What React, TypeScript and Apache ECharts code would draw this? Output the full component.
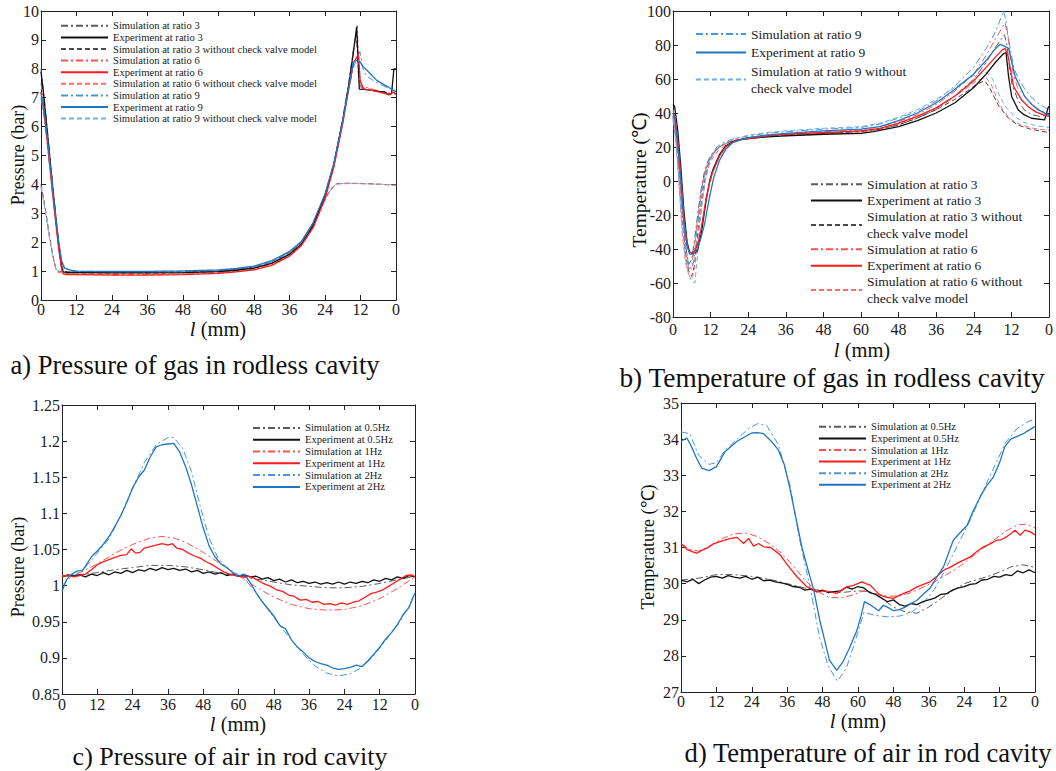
import React, { useEffect, useRef } from 'react';
import * as echarts from 'echarts';

const FONT = 'Liberation Serif, Times New Roman, serif';

// Stroke position axis: runs 0 -> 60 -> 0 mm (plotted 0..120)
const X_TICK_LABELS = ['0', '12', '24', '36', '48', '60', '48', '36', '24', '12', '0'];

// ---------- a) Pressure of gas in rodless cavity (bar) ----------
const A3_SIM = [[0,8.0],[1,7.1],[2,6.05],[3,5.0],[4,3.95],[5,2.95],[6,2.0],[7,1.2],[7.8,1.0],[9,0.97],[12,0.97],[24,0.96],[36,0.96],[48,0.97],[60,1.0],[66,1.05],[72,1.13],[78,1.3],[84,1.62],[88,1.98],[92,2.65],[96,3.65],[99,4.75],[102,6.3],[104,7.5],[105.5,8.6],[106.6,9.25],[107.4,7.6],[108.2,7.35],[112,7.28],[116,7.18],[118,7.15],[120,7.2]];
const A3_EXP = [[0,7.9],[1,7.0],[2,5.95],[3,4.9],[4,3.85],[5,2.85],[6,1.9],[7,1.1],[7.6,0.97],[9,0.95],[12,0.95],[24,0.94],[36,0.94],[48,0.95],[60,0.98],[66,1.03],[72,1.1],[78,1.27],[84,1.58],[88,1.93],[92,2.58],[96,3.6],[99,4.7],[102,6.2],[104,7.4],[105.5,8.5],[106.7,9.45],[107.6,7.3],[110,7.28],[114,7.22],[116.3,7.2],[117.5,7.1],[118.5,7.15],[119.3,8.0],[120,8.0]];
const A3_NOCV = [[0,4.0],[1,3.45],[2,2.8],[3,2.15],[4,1.55],[5,1.1],[5.7,1.0],[8,0.98],[12,0.98],[24,0.97],[36,0.97],[48,0.98],[60,1.01],[66,1.06],[72,1.14],[78,1.32],[84,1.64],[88,2.0],[92,2.68],[96,3.5],[98,3.85],[100,4.03],[104,4.04],[110,4.03],[116,4.0],[120,3.98]];
const A6_SIM = [[0,7.5],[1,6.7],[2,5.75],[3,4.75],[4,3.75],[5,2.75],[6,1.85],[7,1.1],[7.8,0.92],[9,0.9],[12,0.9],[24,0.88],[36,0.88],[48,0.9],[60,0.94],[66,0.99],[72,1.06],[78,1.23],[84,1.55],[88,1.9],[92,2.55],[96,3.55],[99,4.65],[102,6.2],[104,7.5],[105.8,8.7],[106.9,9.5],[107.6,7.6],[108.5,7.4],[112,7.3],[116,7.15],[118,7.1],[120,7.15]];
const A6_EXP = [[0,7.2],[1,6.5],[2,5.6],[3,4.6],[4,3.6],[5,2.65],[6,1.75],[7,1.05],[7.6,0.9],[9,0.88],[12,0.88],[24,0.86],[36,0.86],[48,0.88],[60,0.92],[66,0.97],[72,1.04],[78,1.2],[84,1.52],[88,1.88],[92,2.5],[96,3.5],[99,4.6],[102,6.1],[104,7.3],[105.6,8.2],[107.3,8.5],[107.9,7.6],[109,7.3],[112,7.25],[116,7.15],[118,7.12],[119,7.2],[120,7.1]];
const A6_NOCV = [[0,3.95],[1,3.4],[2,2.75],[3,2.1],[4,1.5],[5,1.05],[5.7,0.95],[8,0.93],[12,0.93],[24,0.92],[36,0.92],[48,0.93],[60,0.96],[66,1.01],[72,1.09],[78,1.27],[84,1.6],[88,1.96],[92,2.63],[96,3.45],[98,3.82],[100,4.01],[104,4.03],[110,4.02],[116,3.99],[120,3.97]];
const A9_SIM = [[0,7.0],[1,6.35],[2,5.5],[3,4.55],[4,3.6],[5,2.7],[6,1.9],[7,1.3],[8,1.08],[10,1.02],[12,1.0],[24,0.98],[36,0.98],[48,1.0],[60,1.03],[66,1.08],[72,1.16],[78,1.34],[84,1.66],[88,2.0],[92,2.66],[96,3.65],[99,4.7],[102,6.2],[104,7.3],[105.8,8.1],[107.8,8.6],[108.8,8.0],[110,7.75],[113,7.55],[117,7.35],[120,7.25]];
const A9_EXP = [[0,7.2],[1,6.6],[2,5.75],[3,4.8],[4,3.8],[5,2.85],[6,2.0],[7,1.35],[8,1.1],[10,1.03],[12,1.0],[24,0.99],[36,0.99],[48,1.01],[60,1.04],[66,1.09],[72,1.17],[78,1.36],[84,1.68],[88,2.02],[92,2.68],[96,3.67],[99,4.72],[102,6.2],[104,7.3],[105.5,8.2],[106.5,8.3],[107.8,8.25],[109,8.05],[110.1,7.96],[112,7.75],[113.5,7.6],[116.8,7.4],[118.5,7.3],[120,7.2]];
const A9_NOCV = [[0,3.9],[1,3.35],[2,2.7],[3,2.05],[4,1.5],[5,1.1],[5.8,0.98],[8,0.96],[12,0.96],[24,0.95],[36,0.95],[48,0.96],[60,0.99],[66,1.04],[72,1.12],[78,1.3],[84,1.62],[88,1.98],[92,2.66],[96,3.48],[98,3.84],[100,4.02],[104,4.04],[110,4.02],[116,4.0],[120,3.98]];

// ---------- b) Temperature of gas in rodless cavity (°C) ----------
const B3_SIM = [[0,40],[1,30],[2,10],[3,-16],[4,-38],[5,-49],[6,-46],[7,-33],[8,-18],[9,-5],[10,5],[11,11],[12,15],[14,19],[16,21.5],[18,23],[20,24],[24,25.5],[30,26.5],[36,27],[48,28],[60,29],[66,30.5],[72,33],[78,37],[84,42],[90,50],[96,60],[100,70],[103,79],[105.8,86],[106.6,80],[107.3,68],[108.2,57],[110,48],[112,42],[114.5,39],[117,38],[120,39]];
const B3_EXP = [[0,45],[0.5,44],[1.5,30],[2.5,8],[3.5,-18],[4.5,-36],[5.3,-42],[6.5,-42.5],[7.8,-41],[9,-31],[10.6,-11],[11.7,0],[12.6,6],[14.8,15.5],[16.8,20.5],[19,23],[22,24.5],[24,25],[30,26],[36,26.5],[48,27.5],[60,28],[64,29],[72,32],[78,35.5],[84,40],[90,46],[96,55],[100,63],[103,70],[105.5,75],[106.3,75.5],[107.1,61.4],[108.1,49.6],[110.2,41.8],[112,39],[114.4,36.9],[118.6,36],[119.7,43],[120,44]];
const B3_NOCV = [[0,38],[1,24],[2,0],[3,-26],[4,-44],[5,-53],[6,-56],[6.8,-50],[7.6,-36],[8.5,-20],[9.5,-6],[10.5,4],[11.5,11],[12.5,15],[14,19],[16,21.5],[18,23],[20,24],[24,25.5],[30,26.5],[36,27],[48,28],[60,29],[66,30.5],[72,33],[78,37],[84,42],[90,48],[94,53],[97,57],[99.5,59],[101,55],[104,44],[107,37],[110,33],[114,30.5],[117,29.5],[120,28.5]];
const B6_SIM = [[0,38],[1,27],[2,6],[3,-20],[4,-42],[5,-52],[6,-50],[7,-36],[8,-20],[9,-6],[10,4],[11,10],[12,14],[14,18.5],[16,21],[18,23],[20,24],[24,25.5],[30,27],[36,28],[48,29],[60,30],[66,32],[72,35],[78,39],[84,45],[90,53],[96,63],[100,74],[103,84],[106,93],[107,84],[107.8,72],[108.7,62],[110,55],[113,48],[116,43],[118,41],[120,39]];
const B6_EXP = [[0,40],[0.6,38],[1.5,25],[2.5,3],[3.5,-22],[4.5,-38],[5.3,-42],[6.5,-42],[7.8,-38],[9,-28],[10.6,-10],[11.7,-1],[12.6,5],[14.8,14.5],[16.8,20],[19,22.8],[22,24.5],[24,25],[30,26.5],[36,27.5],[48,28.5],[60,29.5],[66,31],[72,34],[78,38],[84,43],[90,50],[96,59],[100,67],[103,73],[105,77],[106,78],[107,73],[108.7,55.5],[111.3,47.6],[113.5,43.5],[115.6,40.8],[118,39],[120,38]];
const B6_NOCV = [[0,36],[1,22],[2,-5],[3,-32],[4,-48],[5,-55],[6,-57],[6.8,-52],[7.6,-40],[8.5,-24],[9.5,-10],[10.5,2],[11.5,9],[12.5,13],[14,17],[16,20],[18,22],[20,23.5],[24,25],[30,26],[36,26.5],[48,27.5],[60,28.5],[66,30.5],[72,33.5],[78,38],[84,43],[90,50],[94,55],[97,59],[99.8,61],[101.5,57],[103.5,48],[105.5,41],[108,36],[111,33],[115,31],[118,30.2],[120,30]];
const B9_SIM = [[0,42],[1,32],[2,12],[3,-14],[4,-37],[5,-50],[6,-52],[6.8,-45],[7.6,-30],[8.5,-15],[9.5,-2],[10.5,6],[11.5,12],[12.5,16],[14,20],[16,22.5],[18,24],[20,25],[24,26.5],[30,28],[36,29],[48,30.5],[60,31.5],[66,33.5],[72,37],[78,41],[84,47],[90,56],[96,67],[100,78],[103,88],[105.5,100],[106.3,94],[107,84.5],[108.7,67],[110,61],[112,55],[114,50],[117,45],[120,42]];
const B9_EXP = [[0,40],[0.6,36],[1.5,22],[2.5,0],[3.5,-24],[4.5,-38],[5.3,-43],[6.5,-43],[7.8,-40],[9,-33],[10.1,-25],[11.7,-9],[13,2],[14.8,12],[17,19],[19,22.5],[22,24.5],[24,25.5],[30,27],[36,28],[48,29.5],[60,30.5],[66,32],[72,35.5],[78,40],[84,46],[90,54],[96,63],[100,71],[102.5,77],[104.4,80.4],[105.5,79.5],[107.1,78],[109.2,61.4],[112.3,49.6],[114.5,45],[116.6,41.8],[119.7,38.9],[120,39]];
const B9_NOCV = [[0,38],[1,23],[2,-2],[3,-28],[4,-46],[5,-55],[6,-59],[7,-60],[7.6,-48],[8.4,-30],[9.3,-12],[10.3,1],[11.3,9],[12.3,14],[14,18.5],[16,21.5],[18,23.5],[20,25],[24,27],[30,28.5],[36,29.5],[48,31],[60,32],[66,34],[72,37.5],[78,42],[84,48],[90,55],[94,60],[97,63],[100,64],[102,60],[104,51],[106,44],[109,38],[112,34.5],[116,32.5],[120,31.5]];

// ---------- c) Pressure of air in rod cavity (bar) ----------
const C05_SIM = [[0,1.013],[6,1.015],[12,1.018],[18,1.022],[24,1.025],[30,1.028],[36,1.028],[42,1.026],[48,1.022],[54,1.017],[60,1.013],[66,1.009],[72,1.005],[78,1.001],[84,0.999],[90,0.997],[96,0.997],[102,0.999],[108,1.003],[114,1.008],[120,1.013]];
const C05_EXP = [[0,1.012],[2,1.015],[4,1.013],[6,1.015],[8,1.012],[10,1.016],[12,1.014],[14,1.018],[16,1.015],[18,1.019],[20,1.017],[22,1.021],[24,1.018],[26,1.022],[28,1.02],[30,1.024],[32,1.021],[34,1.025],[36,1.022],[38,1.024],[40,1.021],[42,1.023],[44,1.019],[46,1.021],[48,1.017],[50,1.019],[52,1.016],[54,1.018],[56,1.014],[58,1.016],[60,1.013],[62,1.015],[64,1.012],[66,1.013],[68,1.009],[70,1.011],[72,1.007],[74,1.009],[76,1.005],[78,1.008],[80,1.004],[82,1.006],[84,1.003],[86,1.005],[88,1.002],[90,1.004],[92,1.002],[94,1.005],[96,1.002],[98,1.005],[100,1.003],[102,1.006],[104,1.004],[106,1.008],[108,1.006],[110,1.01],[112,1.008],[114,1.012],[116,1.01],[118,1.014],[120,1.012]];
const C1_SIM = [[0,1.012],[6,1.018],[12,1.03],[18,1.045],[24,1.057],[30,1.066],[34,1.068],[38,1.066],[42,1.06],[48,1.046],[54,1.03],[60,1.014],[66,0.998],[72,0.984],[78,0.974],[84,0.968],[90,0.966],[96,0.967],[102,0.972],[108,0.982],[114,0.996],[120,1.012]];
const C1_EXP = [[0,1.013],[2,1.014],[4,1.012],[6,1.014],[8,1.016],[10,1.022],[12,1.029],[14,1.033],[16,1.036],[18,1.039],[20,1.042],[22,1.043],[23.5,1.051],[25,1.045],[26.5,1.046],[28,1.052],[30,1.054],[32,1.056],[34,1.058],[36,1.056],[37.5,1.058],[39,1.052],[41,1.05],[43,1.045],[45,1.041],[47,1.038],[49,1.033],[51,1.029],[53,1.024],[55,1.019],[57,1.016],[59,1.014],[61,1.012],[63,1.013],[65,1.011],[67,1.006],[69,1.002],[71,0.999],[73,0.994],[75,0.992],[77,0.987],[79,0.985],[81,0.98],[83,0.981],[85,0.977],[87,0.978],[89,0.974],[91,0.975],[93,0.973],[95,0.976],[97,0.974],[99,0.977],[101,0.979],[103,0.984],[105,0.989],[107,0.991],[109,0.994],[111,0.999],[113,1.004],[115,1.009],[117,1.014],[119,1.015],[120,1.012]];
const C2_SIM = [[0,1.0],[3,1.012],[6,1.018],[9,1.03],[12,1.045],[16,1.065],[20,1.097],[24,1.135],[28,1.17],[32,1.195],[36,1.205],[38,1.205],[41,1.19],[44,1.158],[47,1.11],[50,1.066],[53,1.038],[56,1.025],[60,1.015],[63,1.005],[66,0.99],[70,0.967],[74,0.945],[78,0.925],[82,0.905],[86,0.889],[90,0.879],[94,0.875],[98,0.878],[102,0.887],[106,0.903],[110,0.924],[114,0.945],[118,0.972],[120,0.99]];
const C2_EXP = [[0,0.992],[1.5,1.008],[3,1.015],[5,1.02],[7,1.021],[8.5,1.03],[10,1.04],[12,1.048],[14,1.057],[16,1.068],[18,1.082],[20,1.097],[22,1.115],[24,1.135],[26,1.15],[28,1.16],[30,1.178],[32,1.192],[34,1.195],[36,1.196],[38,1.197],[40,1.185],[42,1.165],[44,1.14],[46,1.11],[48,1.08],[50,1.055],[52,1.04],[54,1.03],[56,1.025],[58,1.018],[60,1.013],[62,1.016],[64,1.004],[66,0.99],[68,0.978],[70,0.968],[72,0.958],[74,0.945],[76,0.94],[78,0.925],[80,0.915],[82,0.908],[84,0.9],[86,0.895],[88,0.892],[90,0.89],[92,0.886],[94,0.884],[96,0.885],[98,0.887],[100,0.89],[102,0.888],[104,0.896],[106,0.905],[108,0.915],[110,0.926],[112,0.935],[114,0.946],[116,0.96],[118,0.97],[120,0.99]];

// ---------- d) Temperature of air in rod cavity (°C) ----------
const D05_SIM = [[0,30.1],[6,30.15],[12,30.25],[18,30.25],[24,30.2],[30,30.12],[36,30.0],[42,29.88],[48,29.8],[54,29.75],[60,29.8],[64,29.78],[68,29.6],[72,29.35],[76,29.22],[80,29.18],[84,29.35],[88,29.58],[92,29.8],[96,30.0],[100,30.1],[104,30.2],[108,30.32],[112,30.47],[116,30.52],[120,30.45]];
const D05_EXP = [[0,30.1],[2,30.05],[4,30.12],[6,30.0],[8,30.1],[10,30.18],[12,30.2],[14,30.15],[16,30.22],[18,30.18],[20,30.15],[22,30.2],[24,30.12],[26,30.18],[28,30.08],[30,30.1],[32,30.05],[34,30.02],[36,29.98],[38,29.92],[40,29.9],[42,29.82],[44,29.85],[46,29.78],[48,29.82],[50,29.75],[52,29.78],[54,29.8],[56,29.9],[58,29.85],[60,29.92],[62,29.88],[64,29.75],[66,29.7],[68,29.6],[70,29.5],[72,29.55],[74,29.42],[76,29.38],[78,29.45],[80,29.42],[82,29.5],[84,29.55],[86,29.6],[88,29.7],[90,29.72],[92,29.82],[94,29.88],[96,29.92],[98,29.98],[100,30.0],[102,30.1],[104,30.12],[106,30.2],[108,30.18],[110,30.25],[112,30.22],[114,30.35],[116,30.3],[118,30.38],[120,30.3]];
const D1_SIM = [[0,31.1],[3,30.95],[6,30.9],[10,31.05],[14,31.25],[18,31.38],[22,31.4],[26,31.3],[30,31.1],[34,30.85],[38,30.5],[42,30.1],[46,29.8],[50,29.63],[54,29.6],[58,29.68],[62,29.8],[66,29.72],[70,29.65],[74,29.66],[78,29.75],[82,29.9],[86,30.05],[90,30.25],[94,30.45],[98,30.7],[102,30.95],[106,31.2],[110,31.45],[114,31.62],[117,31.65],[120,31.55]];
const D1_EXP = [[0,31.11],[2,30.95],[4,30.88],[5.4,30.84],[7,30.92],[8.8,30.98],[11,31.1],[12.7,31.15],[14.5,31.2],[17,31.25],[19,31.28],[21.2,31.11],[22.9,31.25],[24.6,31.04],[26.3,31.11],[28,31.02],[30.3,31.0],[32,30.9],[33.6,30.8],[35.3,30.6],[37,30.42],[39.3,30.19],[41,30.05],[42.7,29.91],[44.4,29.85],[46,29.77],[48.3,29.8],[50.6,29.77],[52.8,29.73],[54.5,29.82],[56.2,29.91],[58.5,29.95],[61.3,30.05],[62.7,30.0],[64.1,29.96],[66,29.8],[67.5,29.68],[69.8,29.62],[72,29.59],[73.7,29.66],[75.4,29.73],[77.7,29.8],[80,29.91],[82.2,29.98],[84.4,30.05],[86.7,30.2],[89,30.37],[91.2,30.45],[93.5,30.56],[95.8,30.65],[98,30.74],[100.2,30.88],[102.5,31.02],[104.8,31.1],[107,31.2],[108.7,31.22],[110.4,31.3],[111.8,31.38],[113.2,31.48],[115,31.34],[116.6,31.48],[118.3,31.44],[120,31.35]];
const D2_SIM = [[0,34.2],[3,34.15],[6,33.55],[9.5,33.3],[12,33.35],[15,33.7],[19,34.0],[23,34.3],[26,34.43],[29,34.38],[33,33.85],[37,32.7],[40,31.3],[44,29.8],[47,28.5],[50,27.7],[53,27.3],[56,27.65],[59,28.4],[62,29.2],[66,29.12],[70,29.08],[74,29.1],[78,29.2],[82,29.45],[86,29.85],[90,30.45],[94,31.1],[98,31.75],[102,32.5],[106,33.2],[110,33.9],[114,34.3],[118,34.5],[120,34.55]];
const D2_EXP = [[0,33.94],[2,34.03],[3.5,33.8],[5,33.52],[7,33.2],[9.5,33.13],[12,33.24],[15,33.66],[19,33.94],[22,34.08],[24,34.17],[26,34.18],[28,34.15],[30.5,33.95],[33,33.7],[35,33.3],[37,32.6],[39,31.8],[41,31.0],[43,30.4],[45,29.82],[47,29.0],[48.5,28.5],[50.3,27.88],[52.8,27.6],[55,27.85],[57,28.2],[59.6,28.7],[61,29.1],[62.2,29.5],[64,29.42],[67,29.25],[68.6,29.4],[70,29.35],[72,29.25],[74,29.28],[76,29.35],[78,29.45],[80,29.54],[82,29.7],[84.4,29.87],[86.5,30.15],[89,30.47],[92.3,31.2],[94.5,31.4],[96.9,31.6],[99,32.0],[101.4,32.4],[103.5,32.7],[105.9,32.95],[108,33.35],[109.8,33.8],[111.8,34.0],[113.8,34.07],[116,34.15],[118,34.25],[120,34.35]];

const N_S3 = 'Simulation at ratio 3';
const N_E3 = 'Experiment at ratio 3';
const N_N3 = 'Simulation at ratio 3 without check valve model';
const N_S6 = 'Simulation at ratio 6';
const N_E6 = 'Experiment at ratio 6';
const N_N6 = 'Simulation at ratio 6 without check valve model';
const N_S9 = 'Simulation at ratio 9';
const N_E9 = 'Experiment at ratio 9';
const N_N9 = 'Simulation at ratio 9 without check valve model';
const N_S05 = 'Simulation at 0.5Hz';
const N_E05 = 'Experiment at 0.5Hz';
const N_S1 = 'Simulation at 1Hz';
const N_E1 = 'Experiment at 1Hz';
const N_S2 = 'Simulation at 2Hz';
const N_E2 = 'Experiment at 2Hz';

const COL = {
  kSim: '#5a5a5a', kExp: '#111111', kNo: '#4a4a4a',
  rSim: '#ff5050', rExp: '#ff1a1a', rNo: '#ff6a6a',
  bSim: '#4a95dc', bExp: '#2176c2', bNo: '#70aee8',
};

const DASHDOT = [7, 3, 2, 3];
const DASHED = [5, 3];

function line(name: string, data: number[][], idx: number, color: string, kind: 'sim' | 'exp' | 'no') {
  return {
    type: 'line', name, data, xAxisIndex: idx, yAxisIndex: idx,
    symbol: 'none', showSymbol: false, animation: false, silent: true,
    lineStyle: {
      color, width: kind === 'exp' ? 1.3 : 1,
      type: kind === 'sim' ? DASHDOT : kind === 'no' ? DASHED : 'solid',
    },
    itemStyle: { color },
    z: kind === 'exp' ? 3 : 2,
  };
}

const GRIDS = [
  { left: 41, top: 11, width: 355, height: 289 },
  { left: 673, top: 11, width: 378, height: 306 },
  { left: 62, top: 405, width: 353, height: 289 },
  { left: 681, top: 403, width: 354, height: 289 },
];
const Y_RANGES = [
  { min: 0, max: 10, interval: 1 },
  { min: -80, max: 100, interval: 20 },
  { min: 0.85, max: 1.25, interval: 0.05 },
  { min: 27, max: 35, interval: 1 },
];
const X_LABEL_MARGIN = [1, 4, 2, 1];
const AX = '#222';

export default function App() {
  const ref = useRef<HTMLDivElement>(null);
  useEffect(() => {
    if (!ref.current) return;
    const chart = echarts.init(ref.current, undefined, { renderer: 'svg' });

    const xAxis: any[] = [];
    const yAxis: any[] = [];
    GRIDS.forEach((_, i) => {
      xAxis.push({
        type: 'value', gridIndex: i, min: 0, max: 120, interval: 12, position: 'bottom',
        axisLine: { onZero: false, lineStyle: { color: AX, width: 1 } },
        axisTick: { inside: true, length: 5, lineStyle: { color: AX } },
        axisLabel: {
          margin: X_LABEL_MARGIN[i], fontFamily: FONT, fontSize: 16, color: AX,
          formatter: (v: number) => X_TICK_LABELS[Math.round(v / 12)],
        },
        splitLine: { show: false },
      });
      yAxis.push({
        type: 'value', gridIndex: i, ...Y_RANGES[i], position: 'left',
        axisLine: { show: true, onZero: false, lineStyle: { color: AX, width: 1 } },
        axisTick: { show: true, inside: true, length: 5, lineStyle: { color: AX } },
        axisLabel: {
          margin: 2, fontFamily: FONT, fontSize: 16, color: AX,
          formatter: (v: number) => String(parseFloat(v.toFixed(2))),
        },
        splitLine: { show: false },
      });
    });
    GRIDS.forEach((_, i) => {
      xAxis.push({
        type: 'value', gridIndex: i, min: 0, max: 120, interval: 12, position: 'top',
        axisLine: { onZero: false, lineStyle: { color: AX, width: 1 } },
        axisTick: { inside: true, length: 5, lineStyle: { color: AX } },
        axisLabel: { show: false }, splitLine: { show: false },
      });
      yAxis.push({
        type: 'value', gridIndex: i, ...Y_RANGES[i], position: 'right',
        axisLine: { show: true, onZero: false, lineStyle: { color: AX, width: 1 } },
        axisTick: { show: true, inside: true, length: 5, lineStyle: { color: AX } },
        axisLabel: { show: false }, splitLine: { show: false },
      });
    });

    const series = [
      line(N_S3, A3_SIM, 0, COL.kSim, 'sim'),
      line(N_E3, A3_EXP, 0, COL.kExp, 'exp'),
      line(N_N3, A3_NOCV, 0, COL.kNo, 'no'),
      line(N_S6, A6_SIM, 0, COL.rSim, 'sim'),
      line(N_E6, A6_EXP, 0, COL.rExp, 'exp'),
      line(N_N6, A6_NOCV, 0, COL.rNo, 'no'),
      line(N_S9, A9_SIM, 0, COL.bSim, 'sim'),
      line(N_E9, A9_EXP, 0, COL.bExp, 'exp'),
      line(N_N9, A9_NOCV, 0, COL.bNo, 'no'),

      line(N_S3, B3_SIM, 1, COL.kSim, 'sim'),
      line(N_E3, B3_EXP, 1, COL.kExp, 'exp'),
      line(N_N3, B3_NOCV, 1, COL.kNo, 'no'),
      line(N_S6, B6_SIM, 1, COL.rSim, 'sim'),
      line(N_E6, B6_EXP, 1, COL.rExp, 'exp'),
      line(N_N6, B6_NOCV, 1, COL.rNo, 'no'),
      line(N_S9, B9_SIM, 1, COL.bSim, 'sim'),
      line(N_E9, B9_EXP, 1, COL.bExp, 'exp'),
      line(N_N9, B9_NOCV, 1, COL.bNo, 'no'),

      line(N_S05, C05_SIM, 2, COL.kSim, 'sim'),
      line(N_E05, C05_EXP, 2, COL.kExp, 'exp'),
      line(N_S1, C1_SIM, 2, COL.rSim, 'sim'),
      line(N_E1, C1_EXP, 2, COL.rExp, 'exp'),
      line(N_S2, C2_SIM, 2, COL.bSim, 'sim'),
      line(N_E2, C2_EXP, 2, COL.bExp, 'exp'),

      line(N_S05, D05_SIM, 3, COL.kSim, 'sim'),
      line(N_E05, D05_EXP, 3, COL.kExp, 'exp'),
      line(N_S1, D1_SIM, 3, COL.rSim, 'sim'),
      line(N_E1, D1_EXP, 3, COL.rExp, 'exp'),
      line(N_S2, D2_SIM, 3, COL.bSim, 'sim'),
      line(N_E2, D2_EXP, 3, COL.bExp, 'exp'),
    ];

    const legendBase = {
      orient: 'vertical', itemGap: 0, itemHeight: 8, selectedMode: false, padding: 0,
      inactiveColor: '#222', itemStyle: { opacity: 0 },
    };
    const legend = [
      {
        ...legendBase, left: 60, top: 20, itemWidth: 47,
        textStyle: { fontFamily: FONT, fontSize: 10.6, lineHeight: 11.6, color: '#222' },
        data: [N_S3, N_E3, N_N3, N_S6, N_E6, N_N6, N_S9, N_E9, N_N9],
      },
      {
        ...legendBase, left: 695, top: 25.5, itemWidth: 50, itemGap: 1.5,
        textStyle: { fontFamily: FONT, fontSize: 13.5, lineHeight: 17, color: '#222' },
        formatter: (n: string) => n.replace(' without ', ' without\n'),
        data: [N_S9, N_E9, N_N9],
      },
      {
        ...legendBase, left: 810, top: 176, itemWidth: 51,
        textStyle: { fontFamily: FONT, fontSize: 13.5, lineHeight: 16.3, color: '#222' },
        formatter: (n: string) => n.replace(' without ', ' without\n'),
        data: [N_S3, N_E3, N_N3, N_S6, N_E6, N_N6],
      },
      {
        ...legendBase, left: 252, top: 422, itemWidth: 47,
        textStyle: { fontFamily: FONT, fontSize: 10.6, lineHeight: 11.8, color: '#222' },
        data: [N_S05, N_E05, N_S1, N_E1, N_S2, N_E2],
      },
      {
        ...legendBase, left: 818, top: 421, itemWidth: 47,
        textStyle: { fontFamily: FONT, fontSize: 10.6, lineHeight: 11.6, color: '#222' },
        data: [N_S05, N_E05, N_S1, N_E1, N_S2, N_E2],
      },
    ];

    const txt = (x: number, y: number, text: string, size: number, rot = 0, rich = false) => ({
      type: 'text', x, y, rotation: rot, silent: true,
      style: {
        text, fontFamily: FONT, fontSize: size, fill: '#111',
        align: 'center', verticalAlign: 'middle',
        ...(rich ? { rich: { i: { fontStyle: 'italic', fontFamily: FONT, fontSize: size, fill: '#111' } } } : {}),
      },
    });

    const graphic = [
      txt(18, 155, 'Pressure (bar)', 18, Math.PI / 2),
      txt(639, 180, 'Temperature (\u2103)', 19.5, Math.PI / 2),
      txt(18, 567, 'Pressure (bar)', 18, Math.PI / 2),
      txt(648, 547, 'Temperature (\u2103)', 18, Math.PI / 2),
      txt(218, 329, '{i|l} (mm)', 20.5, 0, true),
      txt(862, 350, '{i|l} (mm)', 20.5, 0, true),
      txt(238, 724, '{i|l} (mm)', 20.5, 0, true),
      txt(858, 721, '{i|l} (mm)', 20.5, 0, true),
      txt(195, 365, 'a) Pressure of gas in rodless cavity', 26.6),
      txt(832, 378, 'b) Temperature of gas in rodless cavity', 27.3),
      txt(230, 756, 'c) Pressure of air in rod cavity', 26),
      txt(868, 753, 'd) Temperature of air in rod cavity', 26.6),
    ];

    chart.setOption({
      animation: false,
      backgroundColor: '#ffffff',
      grid: GRIDS.map((g) => ({ ...g, containLabel: false })),
      xAxis, yAxis, series, legend, graphic,
    });
    return () => chart.dispose();
  }, []);

  return <div ref={ref} style={{ position: 'absolute', left: 0, top: 0, width: 1056, height: 771 }} />;
}
